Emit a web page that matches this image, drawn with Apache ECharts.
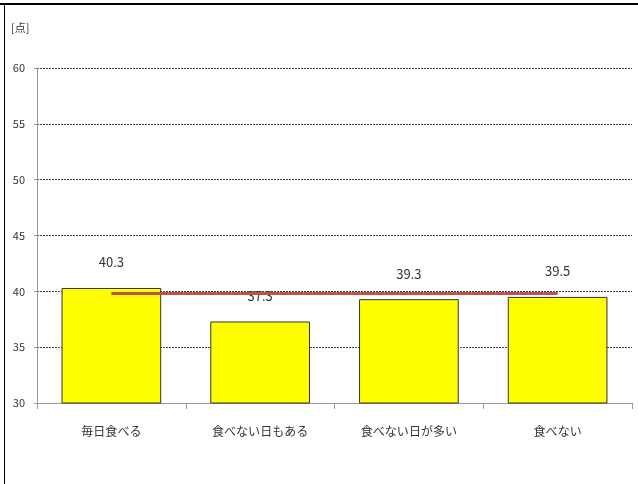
<!DOCTYPE html>
<html lang="ja">
<head>
  <meta charset="UTF-8">
  <title>朝食と得点</title>
  <script src="https://cdn.jsdelivr.net/npm/echarts@6/dist/echarts.min.js"></script>
  <style>
    html, body { margin: 0; padding: 0; background: #fff; }
  </style>
</head>
<body>
<div id="main" style="width:638px;height:484px;"></div>
<script type="text/javascript">
    var categories = ['毎日食べる', '食べない日もある', '食べない日が多い', '食べない'];
    var scores = [40.3, 37.3, 39.3, 39.5];
    // 赤い横線（全体の平均らしい）
    var refLine = [39.8, 39.8, 39.8, 39.8];
    var yTicks = { min: 30, max: 60, step: 5 };

    var font = '"Liberation Sans Narrow", "Noto Sans CJK JP", sans-serif';
    var myChart = echarts.init(document.getElementById('main'));

    var option = {
        animation: false,
        textStyle: { fontFamily: font },
        grid: { left: 37, right: 6, top: 68, bottom: 81 },
        graphic: [
            { type: 'line', shape: { x1: 0, y1: 4, x2: 638, y2: 4 }, style: { stroke: '#000', lineWidth: 2 } },
            { type: 'line', shape: { x1: 4.5, y1: 4, x2: 4.5, y2: 484 }, style: { stroke: '#000', lineWidth: 1 } },
            { type: 'text', left: 11, top: 22, style: { text: '[点]', fontSize: 11, fill: '#333', fontFamily: font } }
        ],
        xAxis: {
            type: 'category',
            data: categories,
            axisLine: { lineStyle: { color: '#999', width: 1 } },
            axisTick: { show: true, length: 6, lineStyle: { color: '#999' } },
            axisLabel: { color: '#333', fontSize: 12, margin: 22, fontFamily: font }
        },
        yAxis: {
            type: 'value',
            min: yTicks.min,
            max: yTicks.max,
            interval: yTicks.step,
            axisLine: { show: true, lineStyle: { color: '#999', width: 1 } },
            axisTick: { show: true, length: 3, lineStyle: { color: '#999' } },
            axisLabel: { color: '#333', fontSize: 11, margin: 12, fontFamily: font },
            splitLine: { show: true, lineStyle: { color: '#444', width: 1, type: [2, 1] } }
        },
        series: [{
            name: '得点',
            type: 'bar',
            data: scores,
            barCategoryGap: '33%',
            itemStyle: { color: '#ffff00', borderColor: '#333', borderWidth: 1 },
            label: {
                show: true,
                position: 'top',
                distance: 19,
                color: '#333',
                fontSize: 13,
                fontFamily: font
            },
            z: 2
        }, {
            name: '平均',
            type: 'line',
            data: refLine,
            symbol: 'none',
            lineStyle: { color: '#c0504d', width: 3 },
            z: 3
        }]
    };

    myChart.setOption(option);
</script>
</body>
</html>
